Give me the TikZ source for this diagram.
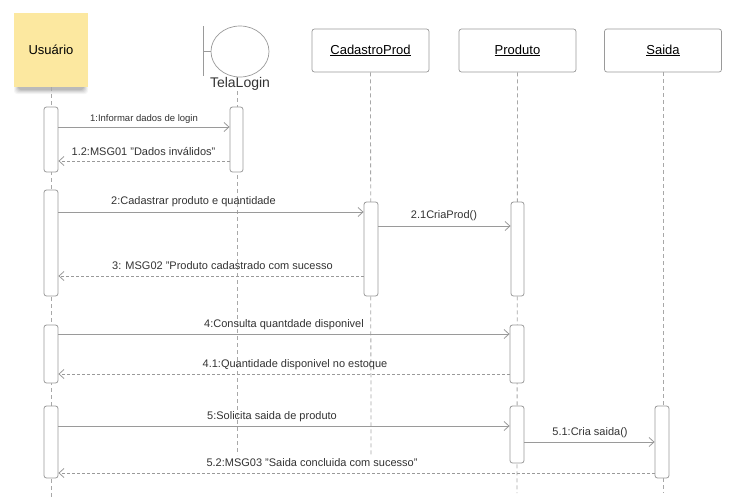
\documentclass[tikz,border=0pt]{standalone}
\usepackage{fontspec}
\setmainfont{Liberation Sans}
\usetikzlibrary{arrows.meta,shapes.geometric}
\definecolor{txt}{HTML}{333333}
\definecolor{ln}{HTML}{9A9A9A}
\definecolor{lifec}{HTML}{A8A8A8}
\definecolor{actorfill}{RGB}{252,232,160}
\tikzset{
  lifeline/.style={draw=lifec, line width=0.8pt, dash pattern=on 4pt off 3pt},
  bar/.style={draw=ln, fill=white, rounded corners=2.5pt, line width=0.8pt, minimum width=14pt, inner sep=0pt},
  objbox/.style={draw=ln, fill=white, rounded corners=2.5pt, line width=0.7pt, minimum width=117pt, minimum height=43pt, inner sep=0pt, text=black, font=\fontsize{13}{15}\selectfont},
  msg/.style={draw=ln, line width=0.8pt, -{Straight Barb[length=5pt,width=9pt]}},
  ret/.style={msg, dash pattern=on 3pt off 2pt},
  lbl/.style={text=txt, font=\fontsize{11}{13}\selectfont, inner sep=0pt},
}
\begin{document}
\begin{tikzpicture}[x=1pt,y=-1pt]
\useasboundingbox (0,0) rectangle (736,499);
\fill[white] (0,0) rectangle (736,499);

% ---- Usuario actor (with shadow)
\foreach \d/\o in {6/0.04,5/0.05,4/0.06,3/0.07,2/0.08}{
  \fill[black, opacity=\o, rounded corners=3pt] (20-\d,50) rectangle (82+\d,88+\d);
}
\node[fill=actorfill, minimum width=74pt, minimum height=74pt, inner sep=0pt,
      text=black, font=\fontsize{13}{15}\selectfont] (user) at (51,50) {Usuário};

% ---- TelaLogin boundary
\node[ellipse, draw=ln, line width=0.7pt, fill=white, inner sep=0pt,
      minimum width=58pt, minimum height=51pt] (tela) at (240,51.5) {};
\coordinate (barTop) at (203,26);
\coordinate (barBot) at (203,76);
\coordinate (barMid) at (203,51.5);
\draw[ln, line width=0.7pt] (barTop) -- (barBot);
\draw[ln, line width=0.7pt] (barMid) -- (tela.west);
\node[text=txt, font=\fontsize{14}{16}\selectfont, inner sep=0pt] (telalbl) at (240,84) {TelaLogin};

% ---- object boxes
\node[objbox] (cad) at (370.5,50.5) {\underline{CadastroProd}};
\node[objbox] (prod) at (517.5,50.5) {\underline{Produto}};
\node[objbox] (saida) at (663,50.5) {\underline{Saida}};

% ---- lifelines
\coordinate (uEnd) at (51,499);
\coordinate (tStart) at (237,91);
\coordinate (tEnd) at (237,455);
\coordinate (cEnd) at (371,455);
\coordinate (pEnd) at (517,493);
\coordinate (sEnd) at (663,493);
\draw[lifeline] (user.south) -- (uEnd);
\draw[lifeline] (tStart) -- (tEnd);
\draw[lifeline] (cad.south) -- (cEnd);
\draw[lifeline] (prod.south) -- (pEnd);
\draw[lifeline] (saida.south) -- (sEnd);

% ---- activation bars
\node[bar, minimum height=65pt] (u1) at (51,139.5) {};
\node[bar, minimum height=65pt, minimum width=13pt] (t1) at (236.5,139.5) {};
\node[bar, minimum height=106pt] (u2) at (51,243) {};
\node[bar, minimum height=94pt] (c1) at (371,249) {};
\node[bar, minimum height=94pt, minimum width=13pt] (p1) at (517.5,249) {};
\node[bar, minimum height=58pt] (u3) at (51,354) {};
\node[bar, minimum height=58pt] (p2) at (517,354) {};
\node[bar, minimum height=72pt] (u4) at (51,442) {};
\node[bar, minimum height=57pt] (p3) at (517,434.5) {};
\node[bar, minimum height=72pt] (s1) at (662,442) {};

% ---- messages
\draw[msg] (u1.east |- 0,127) -- (t1.west |- 0,127);
\node[lbl, font=\fontsize{9.5}{11}\selectfont] (m1) at (144,119) {1:Informar dados de login};

\draw[ret] (t1.west |- 0,161) -- (u1.east |- 0,161);
\node[lbl] (m12) at (143.5,151) {1.2:MSG01 "Dados inválidos"};

\draw[msg] (u2.east |- 0,212) -- (c1.west |- 0,212);
\node[lbl] (m2) at (193.5,202) {2:Cadastrar produto e quantidade};

\draw[msg] (c1.east |- 0,226) -- (p1.west |- 0,226);
\node[lbl] (m21) at (444,216) {2.1CriaProd()};

\draw[ret] (c1.west |- 0,276) -- (u2.east |- 0,276);
\node[lbl] (m3) at (222.5,266) {3: MSG02 "Produto cadastrado com sucesso};

\draw[msg] (u3.east |- 0,334) -- (p2.west |- 0,334);
\node[lbl] (m4) at (284,325) {4:Consulta quantdade disponivel};

\draw[ret] (p2.west |- 0,374) -- (u3.east |- 0,374);
\node[lbl] (m41) at (295,365) {4.1:Quantidade disponivel no estoque};

\draw[msg] (u4.east |- 0,426) -- (p3.west |- 0,426);
\node[lbl] (m5) at (272,417) {5:Solicita saida de produto};

\draw[msg] (p3.east |- 0,442) -- (s1.west |- 0,442);
\node[lbl] (m51) at (590,432.5) {5.1:Cria saida()};

\draw[ret] (s1.west |- 0,473) -- (u4.east |- 0,473);
\node[lbl] (m52) at (312,463) {5.2:MSG03 "Saida concluida com sucesso"};
\end{tikzpicture}
\end{document}
